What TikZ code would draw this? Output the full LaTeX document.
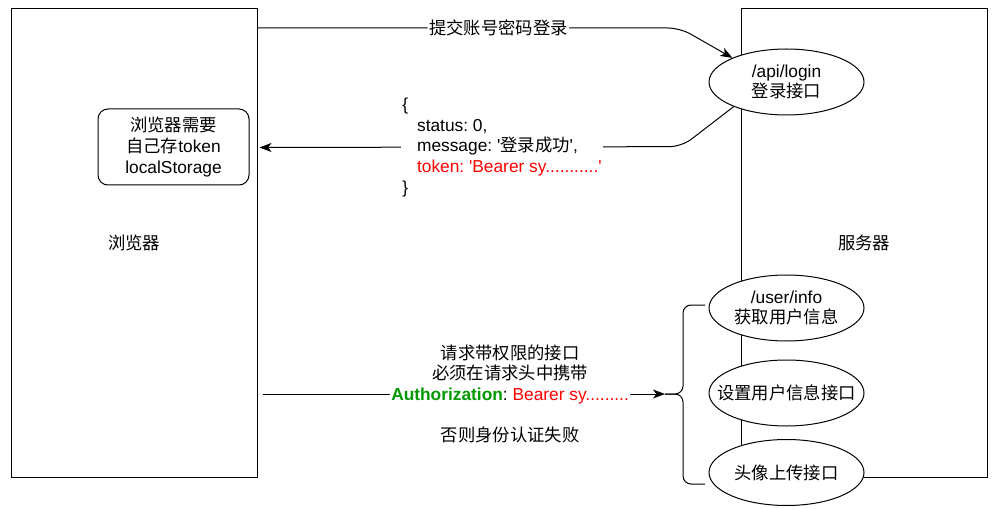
\documentclass[tikz,border=0pt]{standalone}
\usepackage{fontspec}
\setmainfont{Liberation Sans}
\newfontfamily\zh{Noto Sans CJK SC}
\usetikzlibrary{arrows.meta,shapes.geometric}
\definecolor{authgreen}{HTML}{009900}
\frenchspacing

\begin{document}
\begin{tikzpicture}[x=0.75pt, y=-0.75pt, line width=0.75pt, font=\fontsize{13}{15.5}\selectfont]
            \tikzstyle{side} = [draw, minimum width=184.5pt, minimum height=351pt]
            \tikzstyle{note} = [draw, rounded corners=7.5pt, minimum width=113.25pt, minimum height=57pt, align=center]
            \tikzstyle{api} = [draw, fill=white, ellipse, minimum width=116.25pt, minimum height=49.5pt, inner sep=0pt]
            \tikzstyle{msg} = [fill=white, inner sep=1pt]
            \tikzstyle{flow} = [-{Stealth[length=9pt, width=6.75pt, inset=2.5pt]}, rounded corners=9pt]

            \useasboundingbox (0,0) rectangle (994,509);

            \node [side] (browser) at (134,243) {\zh 浏览器};
            \node [side] (server) at (864,243) {\zh 服务器};

            \node [note] (store) at (173.5,147) {{\zh 浏览器需要}\\{\zh 自己存}token\\localStorage};

            \node [api, label={[align=center]center:/api/login\\{\zh 登录接口}}] (login) at (786.5,82) {};
            \node [api, label={[align=center]center:/user/info\\{\zh 获取用户信息}}] (userinfo) at (786.5,308) {};
            \node [api, label={center:{\zh 设置用户信息接口}}] (setinfo) at (786.5,393) {};
            \node [api, label={center:{\zh 头像上传接口}}] (avatar) at (786.5,472.5) {};

            % login request
            \draw [flow] (browser.east |- 680,28) -- node [msg, pos=.57] {\zh 提交账号密码登录} (680,28) -- (login.156);

            % login response
            \coordinate (reply) at (502,147.5);
            \draw [flow] (login.205) -- ++(-52,40) -- ([xshift=1.5pt]browser.east |- reply);
            \node [msg, align=left] (json) at (reply) {\{\\
                \hspace*{11pt}status: 0,\\
                \hspace*{11pt}message: \textquotesingle{\zh 登录成功}\textquotesingle,\\
                \hspace*{11pt}\textcolor{red}{token: \textquotesingle Bearer sy...........\textquotesingle}\\
                \}};

            % protected requests
            \coordinate (brace) at (665,394);
            \draw [rounded corners=6pt] (705,305) -- (683,305) -- (683,394) -- (brace);
            \draw [rounded corners=6pt] (705,484) -- (683,484) -- (683,394) -- (brace);
            \draw [flow] ([xshift=3.75pt]browser.east |- brace) -- node [msg, pos=.615, align=center] {{\zh 请求带权限的接口}\\
                {\zh 必须在请求头中携带}\\
                \textcolor{authgreen}{\bfseries Authorization}: \textcolor{red}{Bearer sy.........}\\[15.5pt]
                {\zh 否则身份认证失败}} (brace);
        \end{tikzpicture}
\end{document}
